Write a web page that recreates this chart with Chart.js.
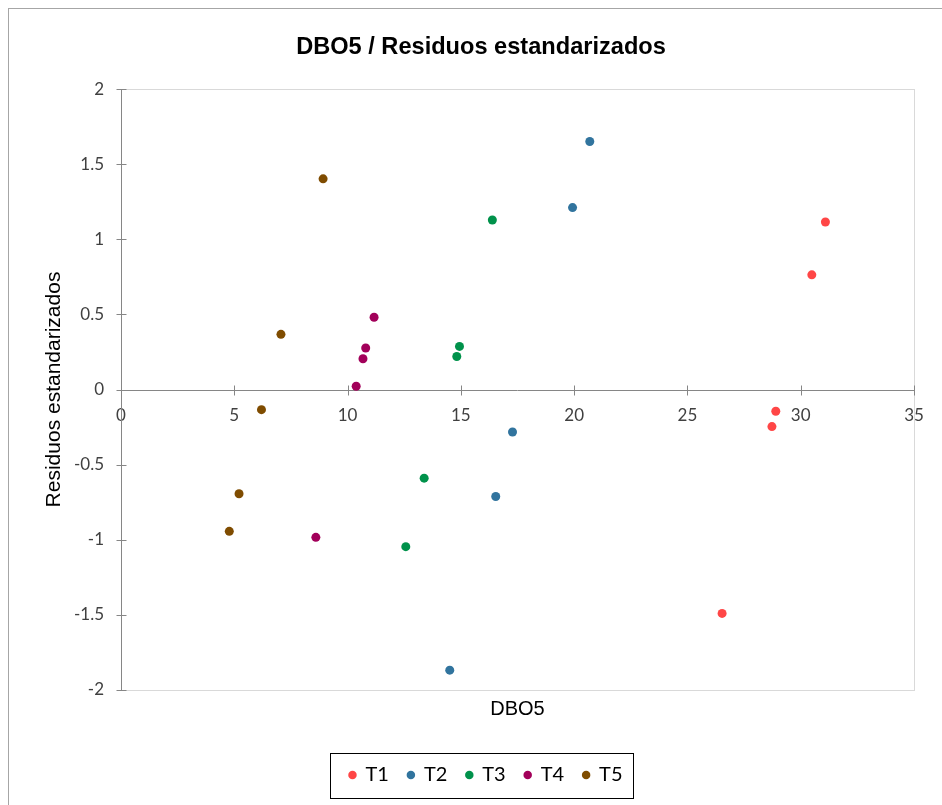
<!DOCTYPE html>
<html><head><meta charset="utf-8">
<script src="https://cdn.jsdelivr.net/npm/chart.js@4.4.1/dist/chart.umd.min.js"></script>
<style>
html,body{margin:0;padding:0;background:#fff;overflow:hidden;width:942px;height:805px;}
#frame{position:absolute;left:8px;top:8px;width:1000px;height:1000px;border-left:1px solid #a6a6a6;border-top:1px solid #a6a6a6;box-sizing:border-box;}
#wrap{position:absolute;left:8px;top:8px;width:946px;height:797px;}
</style></head><body>
<div id="frame"></div>
<div id="wrap"><canvas id="c" width="946" height="797"></canvas></div>
<script>
// ---- data ----
const seriesNames = ['T1', 'T2', 'T3', 'T4', 'T5'];
const t1X = [31.09, 30.49, 28.90, 28.73, 26.53];
const t1Y = [1.115, 0.763, -0.145, -0.247, -1.49];
const t2X = [20.69, 19.93, 17.28, 16.54, 14.51];
const t2Y = [1.651, 1.211, -0.283, -0.712, -1.868];
const t3X = [16.39, 14.94, 14.82, 13.38, 12.57];
const t3Y = [1.128, 0.287, 0.22, -0.59, -1.046];
const t4X = [11.17, 10.80, 10.68, 10.38, 8.60];
const t4Y = [0.481, 0.276, 0.205, 0.022, -0.984];
const t5X = [8.92, 7.06, 6.20, 5.21, 4.78];
const t5Y = [1.402, 0.367, -0.134, -0.694, -0.944];
const xTicks = [0, 5, 10, 15, 20, 25, 30, 35];
const yTicks = [-2, -1.5, -1, -0.5, 0, 0.5, 1, 1.5, 2];
const chartTitle = 'DBO5 / Residuos estandarizados';
const xTitle = 'DBO5';
const yTitle = 'Residuos estandarizados';

// ---- styles ----
const colors = ['#FF4646', '#31749E', '#00924B', '#A2005A', '#7F4C00'];
const allX = [t1X, t2X, t3X, t4X, t5X];
const allY = [t1Y, t2Y, t3Y, t4Y, t5Y];

const datasets = seriesNames.map((name, i) => ({
  label: name,
  data: allX[i].map((x, j) => ({x: x, y: allY[i][j]})),
  backgroundColor: colors[i],
  borderColor: colors[i],
  borderWidth: 0,
  pointRadius: 4.5,
  pointHoverRadius: 4.5,
  pointStyle: 'circle'
}));

const axesPlugin = {
  id: 'axesPlugin',
  afterLayout(chart) {
    const lg = chart.legend;
    if (lg) { lg.left += 5; lg.right += 5; }
  },
  beforeDatasetsDraw(chart) {
    const {ctx, chartArea: a, scales: {x, y}} = chart;
    ctx.save();
    ctx.strokeStyle = '#d9d9d9';
    ctx.lineWidth = 1;
    ctx.strokeRect(Math.round(a.left) + 0.5, Math.round(a.top) + 0.5, Math.round(a.width), Math.round(a.height));
    ctx.strokeStyle = '#868686';
    const x0 = Math.round(x.getPixelForValue(0)) + 0.5;
    const y0 = Math.round(y.getPixelForValue(0)) + 0.5;
    const yTop = y.getPixelForValue(yTicks[yTicks.length - 1]);
    const yBot = y.getPixelForValue(yTicks[0]);
    const xL = x.getPixelForValue(xTicks[0]);
    const xR = x.getPixelForValue(xTicks[xTicks.length - 1]);
    ctx.beginPath();
    ctx.moveTo(x0, yTop); ctx.lineTo(x0, yBot);
    ctx.moveTo(xL, y0); ctx.lineTo(xR, y0);
    yTicks.forEach(v => {
      const py = Math.round(y.getPixelForValue(v)) + 0.5;
      ctx.moveTo(x0 - 5, py); ctx.lineTo(x0 + 5, py);
    });
    xTicks.forEach(v => {
      const px = Math.round(x.getPixelForValue(v)) + 0.5;
      ctx.moveTo(px, y0 - 5); ctx.lineTo(px, y0 + 5);
    });
    ctx.stroke();
    ctx.restore();
  },
  afterDraw(chart) {
    const lg = chart.legend;
    if (!lg || !lg.legendHitBoxes || !lg.legendHitBoxes.length) return;
    const hb = lg.legendHitBoxes;
    const first = hb[0], last = hb[hb.length - 1];
    const cy = first.top + first.height / 2;
    const left = Math.round(first.left - 19) + 0.5;
    const right = Math.round(last.left + last.width + 10) + 0.5;
    const top = Math.round(cy - 22.5) + 0.5;
    const ctx = chart.ctx;
    ctx.save();
    ctx.strokeStyle = '#000';
    ctx.lineWidth = 1;
    ctx.strokeRect(left, top, right - left, 45);
    ctx.restore();
  }
};

new Chart(document.getElementById('c'), {
  type: 'scatter',
  data: {datasets},
  options: {
    responsive: false,
    animation: false,
    layout: {padding: {left: 40, right: 40, top: 0, bottom: 10}},
    plugins: {
      title: {
        display: true, text: chartTitle, color: '#000',
        font: {family: 'Liberation Sans', size: 23.6, weight: 'bold'},
        padding: {top: 25, bottom: 27.7}
      },
      subtitle: {
        display: true, text: xTitle, position: 'bottom', fullSize: false, weight: 500,
        color: '#000', font: {family: 'Liberation Sans', size: 20, weight: 'normal'},
        padding: {top: 7, bottom: 25}
      },
      legend: {
        position: 'bottom',
        labels: {
          usePointStyle: true, pointStyle: 'circle', boxWidth: 6, boxHeight: 6, padding: 19,
          color: '#000', font: {family: 'Lato', size: 20}
        }
      },
      tooltip: {enabled: false}
    },
    scales: {
      x: {
        type: 'linear', position: {y: 0}, min: 0, max: 35,
        afterBuildTicks(s) { s.ticks = xTicks.map(v => ({value: v})); },
        ticks: {color: '#404040', font: {family: 'Lato', size: 17}, padding: 16, callback: v => String(v)},
        grid: {display: false, drawTicks: false},
        border: {display: false}
      },
      y: {
        type: 'linear', position: 'left', min: -2, max: 2,
        afterBuildTicks(s) { s.ticks = yTicks.map(v => ({value: v})); },
        afterFit(s) { s.width = 73; },
        ticks: {color: '#404040', font: {family: 'Lato', size: 17}, padding: 17, callback: v => String(v)},
        grid: {display: false, drawTicks: false},
        border: {display: false},
        title: {
          display: true, text: yTitle, color: '#000',
          font: {family: 'Liberation Sans', size: 21}, padding: {top: -6, bottom: 0}
        }
      }
    }
  },
  plugins: [axesPlugin]
});
</script>
</body></html>
